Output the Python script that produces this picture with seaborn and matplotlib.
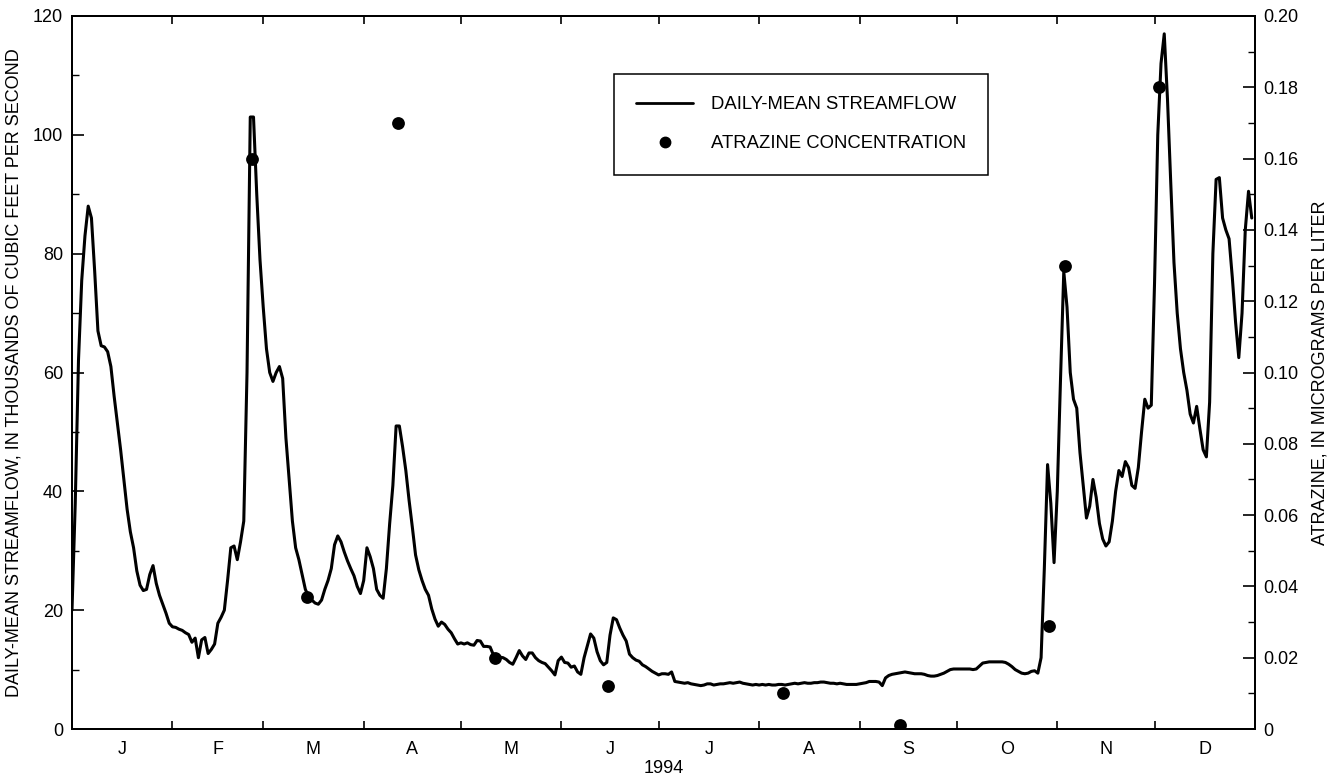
import pandas as pd
import matplotlib
matplotlib.use("Agg")
import matplotlib.pyplot as plt
import matplotlib.dates as mdates
from matplotlib.lines import Line2D
from matplotlib.ticker import FixedLocator, FixedFormatter, MultipleLocator
import seaborn as sns

# Daily-mean streamflow, thousands of cubic feet per second, one list per month of 1994
flow_jan = [20, 38, 62, 75.5, 83, 88, 86, 77, 67, 64.5, 64.3, 63.5, 61, 56, 51.5, 47,
            42, 37, 33.2, 30.5, 26.6, 24.2, 23.3, 23.5, 26, 27.5, 24.5, 22.5, 21, 19.5, 17.8]
flow_feb = [17.2, 17.1, 16.8, 16.6, 16.2, 15.9, 14.6, 15.3, 12, 15, 15.4, 12.7, 13.4, 14.3,
            17.8, 18.8, 20, 25, 30.5, 30.8, 28.5, 31.5, 35, 60, 103, 103, 90, 79]
flow_mar = [71, 64, 60, 58.5, 60, 61, 59, 49, 42, 35, 30.5, 28.5, 26, 23.5, 22.3, 21.7,
            21.2, 21, 21.7, 23.5, 25, 27, 31, 32.5, 31.5, 29.8, 28.3, 27, 25.8, 24, 22.8]
flow_apr = [25, 30.5, 29, 27, 23.5, 22.5, 22, 27, 34.5, 41, 51, 51, 47.5, 43.5, 38.5, 34,
            29.3, 26.8, 25, 23.5, 22.5, 20.2, 18.5, 17.3, 18, 17.6, 16.8, 16.2, 15.2, 14.3]
flow_may = [14.5, 14.3, 14.5, 14.2, 14.1, 14.9, 14.8, 13.9, 13.9, 13.8, 12.5, 12, 12.1, 12,
            11.7, 11.2, 10.9, 12, 13.2, 12.3, 11.7, 12.8, 12.8, 12, 11.5, 11.2, 11, 10.4,
            9.8, 9.1, 11.5]
flow_jun = [12.1, 11.2, 11.1, 10.4, 10.6, 9.6, 9.2, 12, 14, 16, 15.3, 13, 11.5, 10.8, 11.2,
            15.8, 18.7, 18.4, 17, 15.8, 14.8, 12.6, 12, 11.6, 11.4, 10.8, 10.5, 10.1, 9.7, 9.4]
flow_jul = [9.1, 9.3, 9.3, 9.2, 9.6, 8, 7.9, 7.8, 7.7, 7.8, 7.6, 7.5, 7.4, 7.3, 7.4, 7.6,
            7.6, 7.4, 7.5, 7.6, 7.6, 7.7, 7.8, 7.7, 7.8, 7.9, 7.7, 7.6, 7.5, 7.4, 7.5]
flow_aug = [7.4, 7.5, 7.4, 7.5, 7.4, 7.4, 7.5, 7.5, 7.4, 7.5, 7.6, 7.7, 7.6, 7.7, 7.8, 7.7,
            7.7, 7.8, 7.8, 7.9, 7.9, 7.8, 7.7, 7.7, 7.6, 7.7, 7.6, 7.5, 7.5, 7.5, 7.5]
flow_sep = [7.6, 7.7, 7.8, 8.0, 8.0, 8.0, 7.9, 7.3, 8.6, 9.0, 9.2, 9.3, 9.4, 9.5, 9.6, 9.5,
            9.4, 9.3, 9.3, 9.3, 9.2, 9.0, 8.9, 8.9, 9.0, 9.2, 9.4, 9.7, 10.0, 10.1]
flow_oct = [10.1, 10.1, 10.1, 10.1, 10.1, 10.0, 10.1, 10.6, 11.1, 11.2, 11.3, 11.3, 11.3,
            11.3, 11.3, 11.2, 10.9, 10.5, 10.0, 9.7, 9.4, 9.3, 9.4, 9.7, 9.8, 9.4, 12, 27,
            44.5, 38, 28]
flow_nov = [40, 59, 77, 71, 60, 55.5, 54, 46.5, 41, 35.5, 37.5, 42, 39, 34.6, 32, 30.8,
            31.5, 35, 40, 43.5, 42.5, 45, 44, 41, 40.5, 44, 50, 55.5, 54, 54.5]
flow_dec = [75, 100, 112, 117, 106, 92, 78.5, 70, 64, 60, 57, 53, 51.5, 54.3, 50.5, 47,
            45.8, 55, 80, 92.5, 92.8, 86, 84, 82.5, 76, 68.5, 62.5, 70, 84, 90.5, 86]

# Atrazine samples, micrograms per liter
sample_dates = ["1994-02-25", "1994-03-14", "1994-04-11", "1994-05-11", "1994-06-15",
                "1994-08-08", "1994-09-13", "1994-10-29", "1994-11-03", "1994-12-02"]
atrazine = [0.16, 0.037, 0.17, 0.020, 0.012, 0.010, 0.001, 0.029, 0.13, 0.18]

month_labels = ["J", "F", "M", "A", "M", "J", "J", "A", "S", "O", "N", "D"]
flow_ticks = [0, 20, 40, 60, 80, 100, 120]
flow_tick_labels = ["0", "20", "40", "60", "80", "100", "120"]
atrazine_ticks = [0, 0.02, 0.04, 0.06, 0.08, 0.10, 0.12, 0.14, 0.16, 0.18, 0.20]
atrazine_tick_labels = ["0", "0.02", "0.04", "0.06", "0.08", "0.10", "0.12", "0.14",
                        "0.16", "0.18", "0.20"]

streamflow = (flow_jan + flow_feb + flow_mar + flow_apr + flow_may + flow_jun +
              flow_jul + flow_aug + flow_sep + flow_oct + flow_nov + flow_dec)

sns.set_theme(style="ticks", rc={
    "axes.edgecolor": "black", "axes.linewidth": 1.4,
    "xtick.color": "black", "ytick.color": "black",
    "text.color": "black", "axes.labelcolor": "black",
})
plt.rcParams["font.family"] = ["Liberation Sans", "DejaVu Sans"]

W, H = 1335, 777
fig = plt.figure(figsize=(W / 100, H / 100), dpi=100)
fig.patch.set_facecolor("white")
left_px, right_px, top_px, bottom_px = 72, 1255, 16, 729
ax = fig.add_axes([left_px / W, 1 - bottom_px / H,
                   (right_px - left_px) / W, (bottom_px - top_px) / H])

flow_df = pd.DataFrame({
    "date": pd.date_range("1994-01-01", periods=len(streamflow), freq="D"),
    "flow": streamflow,
})
sns.lineplot(data=flow_df, x="date", y="flow", ax=ax, color="black", linewidth=2.2)

ax2 = ax.twinx()
sample_df = pd.DataFrame({
    "date": pd.to_datetime(sample_dates) + pd.Timedelta(hours=12),
    "atrazine": atrazine,
})
sns.scatterplot(data=sample_df, x="date", y="atrazine", ax=ax2, color="black",
                s=85, linewidth=0, zorder=3)

start = pd.Timestamp("1994-01-01")
end = pd.Timestamp("1995-01-01")
ax.set_xlim(start, end)
ax.set_ylim(0, 120)
ax2.set_ylim(0, 0.20)

# Month boundaries as inward tick marks, month initials centred between them
month_starts = pd.date_range("1994-01-01", "1995-01-01", freq="MS")
bounds = mdates.date2num(month_starts)
mids = [(a + b) / 2 for a, b in zip(bounds[:-1], bounds[1:])]
ax.xaxis.set_major_locator(FixedLocator(bounds[1:-1]))
ax.xaxis.set_major_formatter(FixedFormatter([""] * (len(bounds) - 2)))
ax.xaxis.set_minor_locator(FixedLocator(mids))
ax.xaxis.set_minor_formatter(FixedFormatter(month_labels))
ax.tick_params(axis="x", which="major", direction="in", length=6, width=1.2,
               top=True, bottom=True, labelbottom=False)
ax.tick_params(axis="x", which="minor", length=0, pad=9, labelsize=13)

ax.yaxis.set_major_locator(FixedLocator(flow_ticks))
ax.yaxis.set_major_formatter(FixedFormatter(flow_tick_labels))
ax.yaxis.set_minor_locator(MultipleLocator(10))
ax.tick_params(axis="y", which="major", direction="in", length=8.5, width=1.2,
               pad=6.5, labelsize=13, left=True, right=False)
ax.tick_params(axis="y", which="minor", direction="in", length=5, width=1.0,
               left=True, right=False)

ax2.yaxis.set_major_locator(FixedLocator(atrazine_ticks))
ax2.yaxis.set_major_formatter(FixedFormatter(atrazine_tick_labels))
ax2.yaxis.set_minor_locator(MultipleLocator(0.01))
ax2.tick_params(axis="y", which="major", direction="in", length=8.5, width=1.2,
                pad=6, labelsize=13)
ax2.tick_params(axis="y", which="minor", direction="in", length=5, width=1.0)

ax.set_xlabel("1994", fontsize=13)
ax.xaxis.set_label_coords(0.5, -0.043)
ax.set_ylabel("DAILY-MEAN STREAMFLOW, IN THOUSANDS OF CUBIC FEET PER SECOND",
              fontsize=13, labelpad=7)
ax2.set_ylabel("ATRAZINE, IN MICROGRAMS PER LITER", fontsize=13, labelpad=9)

for spine in list(ax.spines.values()) + list(ax2.spines.values()):
    spine.set_color("black")
    spine.set_linewidth(1.4)

handles = [
    Line2D([], [], color="black", linewidth=2.0),
    Line2D([], [], color="black", marker="o", linestyle="none", markersize=7.5),
]
leg = fig.legend(handles, ["DAILY-MEAN STREAMFLOW", "ATRAZINE CONCENTRATION"],
                 loc="upper left", bbox_to_anchor=(614 / W, 1 - 74 / H),
                 bbox_transform=fig.transFigure, fontsize=13.3, frameon=True,
                 fancybox=False, shadow=False, borderpad=1.2, handlelength=3.1,
                 handletextpad=0.95, labelspacing=1.2, borderaxespad=0)
leg.get_frame().set_edgecolor("black")
leg.get_frame().set_linewidth(1.1)
leg.get_frame().set_alpha(1)

fig.savefig("out.png", dpi=100, facecolor="white")
